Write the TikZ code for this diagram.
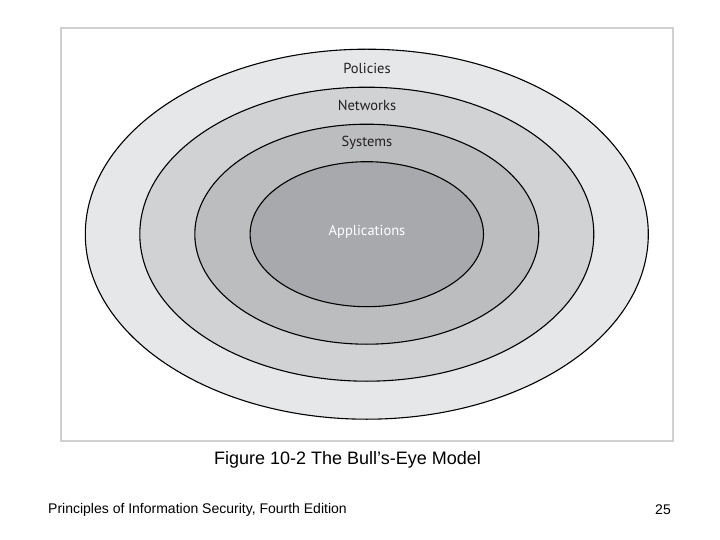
\documentclass[tikz,border=0pt]{standalone}
\usepackage{fontspec}
\setmainfont{Liberation Sans}
\newfontfamily\ringfont{PT Sans}
\definecolor{ringA}{HTML}{E6E7E8}
\definecolor{ringB}{HTML}{D1D2D4}
\definecolor{ringC}{HTML}{BCBDBF}
\definecolor{ringD}{HTML}{A7A9AC}
\definecolor{frameGray}{HTML}{D0D0D0}
\definecolor{labelInk}{HTML}{231F20}
\tikzset{
  ring/.style={draw=black, line width=1.1pt},
  ringlabel/.style={font=\ringfont\fontsize{14.5}{14.5}\selectfont, text=labelInk, inner sep=0pt},
}
\begin{document}
\begin{tikzpicture}[x=1pt,y=-1pt]
\useasboundingbox (0,0) rectangle (720,540);
\fill[white] (0,0) rectangle (720,540);
\node[draw=frameGray, line width=2pt, minimum width=612pt, minimum height=413pt, inner sep=0pt] (frame) at (367,234.5) {};
\path[ring, fill=ringA] (366.8,234.2) ellipse [x radius=281.5, y radius=185];
\path[ring, fill=ringB] (366.8,234.2) ellipse [x radius=227, y radius=147];
\path[ring, fill=ringC] (366.8,234.2) ellipse [x radius=172, y radius=110];
\path[ring, fill=ringD] (366.8,234.2) ellipse [x radius=116.7, y radius=72.5];
\node[ringlabel] (pol) at (367,68) {Policies};
\node[ringlabel] (net) at (367,105) {Networks};
\node[ringlabel] (sys) at (367,143) {Systems};
\node[ringlabel, text=white] (app) at (367,232) {Applications};
\node[font=\fontsize{18}{18}\selectfont, inner sep=0pt] (cap) at (347.5,460) {Figure 10-2 The Bull’s-Eye Model};
\node[font=\fontsize{14}{14}\selectfont, inner sep=0pt, anchor=west] (foot) at (48,510) {Principles of Information Security, Fourth Edition};
\node[font=\fontsize{14}{14}\selectfont, inner sep=0pt, anchor=east] (page) at (671,510) {25};
\end{tikzpicture}
\end{document}
